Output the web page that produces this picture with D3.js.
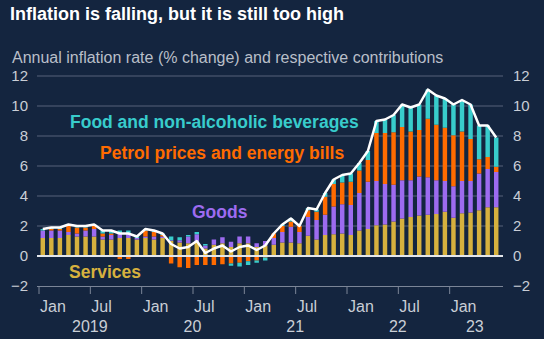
<!DOCTYPE html>
<html>
<head>
<meta charset="utf-8">
<script src="https://cdn.jsdelivr.net/npm/d3@7"></script>
<style>
  html, body { margin: 0; padding: 0; background: #14253f; }
  svg { display: block; font-family: "Liberation Sans", Arial, sans-serif; }
</style>
</head>
<body>
<div id="chart"></div>
<script>
// monthly, Jan 2019 .. Jun 2023
const months = d3.range(54);
const monthNames = ["Jan", "Feb", "Mar", "Apr", "May", "Jun", "Jul", "Aug", "Sep", "Oct", "Nov", "Dec"];
const years = ["2019", "20", "21", "22", "23"];

const cpi = [
  1.8, 1.9, 1.9, 2.1, 2.0, 2.0, 2.1, 1.7, 1.7, 1.5, 1.5, 1.3,
  1.8, 1.7, 1.5, 0.8, 0.5, 0.6, 1.0, 0.2, 0.5, 0.7, 0.3, 0.6,
  0.7, 0.4, 0.7, 1.5, 2.1, 2.5, 2.0, 3.2, 3.1, 4.2, 5.1, 5.4,
  5.5, 6.2, 7.0, 9.0, 9.1, 9.4, 10.1, 9.9, 10.1, 11.1, 10.7, 10.5,
  10.1, 10.4, 10.1, 8.7, 8.7, 7.9
];
const services = [
  1.2, 1.2, 1.2, 1.4, 1.3, 1.3, 1.3, 1.1, 1.1, 1.2, 1.2, 1.1,
  1.2, 1.1, 1.2, 1.0, 0.9, 0.85, 0.95, 0.5, 0.75, 0.85, 0.6, 0.85,
  0.85, 0.6, 0.7, 0.75, 0.9, 0.9, 0.85, 1.35, 1.1, 1.4, 1.45, 1.5,
  1.4, 1.7, 1.8, 2.05, 2.1, 2.3, 2.5, 2.6, 2.7, 2.75, 2.8, 2.95,
  2.55, 2.85, 2.9, 3.05, 3.25, 3.25
];
const goods = [
  0.5, 0.5, 0.5, 0.2, 0.2, 0.4, 0.5, 0.2, 0.3, 0.3, 0.3, 0.1,
  0.1, 0.2, 0.1, 0.05, 0.15, 0.45, 0.5, 0.2, 0.35, 0.4, 0.35, 0.45,
  0.45, 0.25, 0.3, 0.45, 0.7, 1.05, 0.75, 1.25, 1.3, 1.35, 1.85, 1.95,
  2.0, 2.5, 3.15, 2.95, 2.7, 2.45, 2.55, 2.45, 2.6, 2.5, 2.25, 2.05,
  2.1, 2.15, 2.1, 2.45, 2.55, 2.35
];
const energy = [
  0.0, 0.1, 0.1, 0.4, 0.4, 0.2, 0.2, 0.2, 0.1, -0.2, -0.2, 0.0,
  0.4, 0.3, 0.1, -0.5, -0.75, -0.8, -0.6, -0.6, -0.6, -0.55, -0.5, -0.45,
  -0.35, -0.3, -0.1, 0.3, 0.4, 0.35, 0.4, 0.45, 0.55, 1.2, 1.5, 1.45,
  1.55, 1.5, 1.45, 3.2, 3.4, 3.5, 3.55, 3.25, 3.1, 3.9, 3.7, 3.55,
  3.4, 3.3, 2.8, 0.95, 0.8, 0.35
];
const food = [
  0.1, 0.1, 0.1, 0.1, 0.1, 0.1, 0.1, 0.2, 0.2, 0.2, 0.2, 0.1,
  0.1, 0.1, 0.1, 0.25, 0.2, 0.1, 0.15, 0.1, 0.0, 0.0, -0.15, -0.25,
  -0.25, -0.15, -0.2, 0.0, 0.1, 0.2, 0.0, 0.15, 0.15, 0.25, 0.3, 0.5,
  0.55, 0.5, 0.6, 0.8, 0.9, 1.15, 1.5, 1.6, 1.7, 1.95, 1.95, 1.95,
  2.05, 2.1, 2.3, 2.25, 2.1, 1.95
];

const seriesKeys = ["services", "goods", "energy", "food"];
const seriesColors = { services: "#d6b13e", goods: "#9d6bf0", energy: "#ff6b00", food: "#38cccc" };
const yTicks = [-2, 0, 2, 4, 6, 8, 10, 12];

const width = 544;
const height = 339;

const svg = d3.select("#chart").append("svg")
    .attr("width", width)
    .attr("height", height);

svg.append("rect").attr("width", width).attr("height", height).attr("fill", "#14253f");

const table = months.map(i => ({
    i, services: services[i], goods: goods[i], energy: energy[i], food: food[i]
}));

const x = d3.scaleBand().domain(months).range([38.5, 500.5]).padding(0);
const xl = d3.scaleLinear().domain([0, months.length]).range([38.5, 500.5]);
const y = d3.scaleLinear().domain([-2, 12]).range([286, 76]);

// title & subtitle
svg.append("text")
    .attr("x", 10).attr("y", 20)
    .attr("fill", "#ffffff")
    .attr("font-weight", "bold")
    .attr("font-size", 18)
    .text("Inflation is falling, but it is still too high");

svg.append("text")
    .attr("x", 12).attr("y", 63)
    .attr("fill", "#b9bfc9")
    .attr("font-size", 16)
    .text("Annual inflation rate (% change) and respective contributions");

// gridlines
svg.append("g")
    .selectAll("line")
    .data(yTicks.filter(d => d !== 0 && d !== -2))
    .join("line")
    .attr("x1", 37).attr("x2", 503)
    .attr("y1", d => y(d)).attr("y2", d => y(d))
    .attr("stroke", "#56627a")
    .attr("stroke-width", 1);

// y axes
const yLeft = svg.append("g")
    .attr("transform", "translate(37,0)")
    .call(d3.axisLeft(y).tickValues(yTicks).tickSize(0).tickPadding(9));
const yRight = svg.append("g")
    .attr("transform", "translate(503,0)")
    .call(d3.axisRight(y).tickValues(yTicks).tickSize(0).tickPadding(10));
[yLeft, yRight].forEach(g => {
    g.select(".domain").remove();
    g.selectAll("text").attr("fill", "#c9ced6").attr("font-size", 15).attr("font-family", "Liberation Sans, Arial, sans-serif");
});

// stacked bars
const stack = d3.stack().keys(seriesKeys).offset(d3.stackOffsetDiverging);
const stacked = stack(table);

const barW = x.bandwidth() * 0.52;
svg.append("g")
    .selectAll("g")
    .data(stacked)
    .join("g")
    .attr("fill", d => seriesColors[d.key])
    .selectAll("rect")
    .data(d => d)
    .join("rect")
    .attr("x", d => x(d.data.i) + (x.bandwidth() - barW) / 2)
    .attr("y", d => y(Math.max(d[0], d[1])))
    .attr("height", d => Math.abs(y(d[0]) - y(d[1])))
    .attr("width", barW);

// zero line
svg.append("line")
    .attr("x1", 37).attr("x2", 503)
    .attr("y1", y(0)).attr("y2", y(0))
    .attr("stroke", "#e4e7ec")
    .attr("stroke-width", 2);

// x axis at -2
const xAxis = svg.append("g")
    .attr("transform", `translate(0,${y(-2)})`)
    .call(d3.axisBottom(xl)
        .tickValues(d3.range(0, 54, 6))
        .tickSize(8)
        .tickSizeOuter(0)
        .tickFormat(d => monthNames[d % 12]));
xAxis.select(".domain").attr("stroke", "#7b8597").attr("d", `M37,0.5H503`);
xAxis.selectAll(".tick line").attr("stroke", "#7b8597");
xAxis.selectAll("text")
    .attr("text-anchor", "start")
    .attr("x", 1)
    .attr("y", 26)
    .attr("dy", 0)
    .attr("fill", "#c9ced6")
    .attr("font-size", 16)
    .attr("font-family", "Liberation Sans, Arial, sans-serif");

// year labels, centred on each year's months
svg.append("g")
    .selectAll("text")
    .data(years)
    .join("text")
    .attr("x", (d, k) => {
        const first = k * 12;
        const last = Math.min(first + 12, months.length);
        return (xl(first) + xl(last)) / 2;
    })
    .attr("y", 332)
    .attr("text-anchor", "middle")
    .attr("fill", "#c9ced6")
    .attr("font-size", 16)
    .text(d => d);

// CPI line
const line = d3.line()
    .x((d, i) => x(i) + x.bandwidth() / 2)
    .y(d => y(d));
svg.append("path")
    .datum(cpi)
    .attr("fill", "none")
    .attr("stroke", "#ffffff")
    .attr("stroke-width", 2.5)
    .attr("stroke-linejoin", "round")
    .attr("d", line);

// series labels
const labels = [
    { text: "Food and non-alcoholic beverages", key: "food", x: 70, y: 128 },
    { text: "Petrol prices and energy bills", key: "energy", x: 100, y: 159 },
    { text: "Goods", key: "goods", x: 192, y: 218 },
    { text: "Services", key: "services", x: 69, y: 278 }
];
svg.append("g")
    .selectAll("text")
    .data(labels)
    .join("text")
    .attr("x", d => d.x)
    .attr("y", d => d.y)
    .attr("fill", d => seriesColors[d.key])
    .attr("font-weight", "bold")
    .attr("font-size", 17.5)
    .text(d => d.text);
</script>
</body>
</html>
